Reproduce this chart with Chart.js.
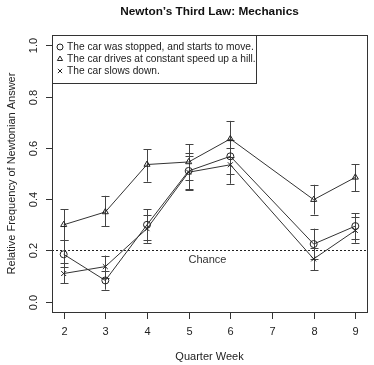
<!DOCTYPE html>
<html>
<head>
<meta charset="utf-8">
<script src="https://cdn.jsdelivr.net/npm/chart.js@4"></script>
<style>
  body { margin: 0; background: #fff; }
  canvas { display: block; }
</style>
</head>
<body>
<canvas id="chart" width="374" height="365"></canvas>
<script>
// data
const weeks = [2, 3, 4, 5, 6, 8, 9];
const xTicks = [2, 3, 4, 5, 6, 7, 8, 9];
const yTicks = [0, 0.2, 0.4, 0.6, 0.8, 1.0];
const chance = 0.2;

const stopped = [0.185, 0.083, 0.30, 0.51, 0.567, 0.225, 0.295];
const stoppedLo = [0.135, 0.047, 0.24, 0.44, 0.50, 0.165, 0.245];
const stoppedHi = [0.24, 0.12, 0.36, 0.58, 0.63, 0.285, 0.345];

const hill = [0.30, 0.35, 0.535, 0.545, 0.635, 0.398, 0.485];
const hillLo = [0.24, 0.295, 0.468, 0.475, 0.565, 0.34, 0.43];
const hillHi = [0.36, 0.413, 0.595, 0.615, 0.705, 0.456, 0.537];

const slows = [0.11, 0.137, 0.285, 0.505, 0.534, 0.167, 0.278];
const slowsLo = [0.073, 0.092, 0.23, 0.435, 0.46, 0.123, 0.23];
const slowsHi = [0.15, 0.18, 0.34, 0.57, 0.60, 0.21, 0.33];

const labels = [
  'The car was stopped, and starts to move.',
  'The car drives at constant speed up a hill.',
  'The car slows down.'
];

const FONT = '"Liberation Sans", Arial, sans-serif';

function pts(vals) {
  return vals.map((v, i) => ({ x: weeks[i], y: v }));
}

function series(label, vals, style, lo, hi) {
  return {
    label: label,
    data: pts(vals),
    lo: lo,
    hi: hi,
    borderColor: '#333',
    borderWidth: 1,
    pointStyle: style,
    pointRadius: 3.5,
    pointBorderColor: '#222',
    pointBackgroundColor: 'rgba(0,0,0,0)',
    pointBorderWidth: 1,
    tension: 0
  };
}

const rPlot = {
  id: 'rPlot',
  beforeDatasetsDraw(chart) {
    const { ctx, chartArea: a, scales: { x, y } } = chart;
    ctx.save();
    // chance line
    ctx.strokeStyle = '#222';
    ctx.lineWidth = 1;
    ctx.setLineDash([2, 2]);
    const cy = Math.round(y.getPixelForValue(chance)) + 0.5;
    ctx.beginPath();
    ctx.moveTo(a.left, cy);
    ctx.lineTo(a.right, cy);
    ctx.stroke();
    ctx.setLineDash([]);
    ctx.fillStyle = '#333';
    ctx.font = '11px ' + FONT;
    ctx.textAlign = 'center';
    ctx.textBaseline = 'middle';
    ctx.fillText('Chance', x.getPixelForValue(5.45), cy + 9);

    // error bars
    ctx.strokeStyle = '#444';
    chart.data.datasets.forEach(ds => {
      weeks.forEach((w, i) => {
        const px = Math.round(x.getPixelForValue(w)) + 0.5;
        const y1 = y.getPixelForValue(ds.lo[i]);
        const y2 = y.getPixelForValue(ds.hi[i]);
        ctx.beginPath();
        ctx.moveTo(px, y1);
        ctx.lineTo(px, y2);
        ctx.moveTo(px - 4, Math.round(y1) + 0.5);
        ctx.lineTo(px + 4, Math.round(y1) + 0.5);
        ctx.moveTo(px - 4, Math.round(y2) + 0.5);
        ctx.lineTo(px + 4, Math.round(y2) + 0.5);
        ctx.stroke();
      });
    });
    ctx.restore();
  },
  afterDraw(chart) {
    const { ctx, chartArea: a, scales: { x, y } } = chart;
    ctx.save();
    ctx.strokeStyle = '#333';
    ctx.lineWidth = 1;
    ctx.strokeRect(a.left + 0.5, a.top + 0.5, a.right - a.left, a.bottom - a.top);

    // x ticks
    ctx.fillStyle = '#222';
    ctx.font = '11px ' + FONT;
    ctx.textAlign = 'center';
    ctx.textBaseline = 'middle';
    xTicks.forEach(t => {
      const px = Math.round(x.getPixelForValue(t)) + 0.5;
      ctx.beginPath();
      ctx.moveTo(px, a.bottom + 1);
      ctx.lineTo(px, a.bottom + 7);
      ctx.stroke();
      ctx.fillText(String(t), px, a.bottom + 20);
    });
    // y ticks (rotated labels, as in R)
    yTicks.forEach(t => {
      const py = Math.round(y.getPixelForValue(t)) + 0.5;
      ctx.beginPath();
      ctx.moveTo(a.left, py);
      ctx.lineTo(a.left - 6, py);
      ctx.stroke();
      ctx.save();
      ctx.translate(a.left - 18, py);
      ctx.rotate(-Math.PI / 2);
      ctx.fillText(t.toFixed(1), 0, 0);
      ctx.restore();
    });

    // axis titles
    ctx.fillText('Quarter Week', (a.left + a.right) / 2, 357);
    ctx.save();
    ctx.translate(12, (a.top + a.bottom) / 2);
    ctx.rotate(-Math.PI / 2);
    ctx.fillText('Relative Frequency of Newtonian Answer', 0, 0);
    ctx.restore();

    // main title
    ctx.fillStyle = '#111';
    ctx.font = 'bold 11.8px ' + FONT;
    ctx.fillText('Newton\u2019s Third Law: Mechanics', (a.left + a.right) / 2, 12);

    // legend
    ctx.fillStyle = '#fff';
    ctx.fillRect(a.left + 1, a.top + 1, 203, 47);
    ctx.strokeRect(a.left + 0.5, a.top + 0.5, 204, 48);
    ctx.font = '10.2px ' + FONT;
    ctx.textAlign = 'left';
    const styles = ['circle', 'triangle', 'crossRot'];
    labels.forEach((lab, i) => {
      const ly = a.top + 12 + i * 12;
      ctx.fillStyle = 'rgba(0,0,0,0)';
      ctx.strokeStyle = '#222';
      Chart.helpers.drawPoint(ctx, { pointStyle: styles[i], radius: 3, borderWidth: 1 }, a.left + 8, ly);
      ctx.fillStyle = '#222';
      ctx.fillText(lab, a.left + 15, ly);
    });
    ctx.restore();
  }
};

new Chart(document.getElementById('chart'), {
  type: 'line',
  data: {
    datasets: [
      series(labels[0], stopped, 'circle', stoppedLo, stoppedHi),
      series(labels[1], hill, 'triangle', hillLo, hillHi),
      series(labels[2], slows, 'crossRot', slowsLo, slowsHi)
    ]
  },
  options: {
    responsive: false,
    animation: false,
    layout: { padding: { left: 52, right: 7, top: 35, bottom: 53 } },
    plugins: { legend: { display: false }, tooltip: { enabled: false }, title: { display: false } },
    scales: {
      x: { type: 'linear', min: 1.72, max: 9.28, display: false },
      y: { type: 'linear', min: -0.04, max: 1.04, display: false }
    }
  },
  plugins: [rPlot]
});
</script>
</body>
</html>
